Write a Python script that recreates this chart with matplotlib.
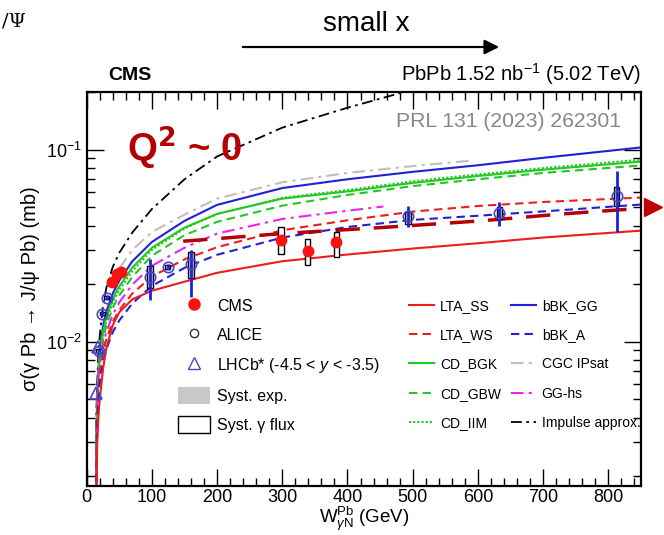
import numpy as np
import matplotlib.pyplot as plt
from matplotlib.lines import Line2D
from matplotlib.patches import Rectangle, Patch, FancyArrowPatch
from matplotlib.ticker import MultipleLocator, LogLocator, NullFormatter

plt.rcParams['font.family'] = ['Liberation Sans', 'DejaVu Sans']
plt.rcParams['mathtext.fontset'] = 'custom'
plt.rcParams['mathtext.rm'] = 'Liberation Sans'
plt.rcParams['mathtext.it'] = 'Liberation Sans:italic'

# theory curves
W_th = [14, 15, 16, 18, 20, 25, 30, 40, 50, 70, 100, 150, 200, 300, 400, 500, 600, 700, 850]
bBK_GG = [0.0012, 0.0033, 0.0050, 0.0071, 0.0088, 0.0120, 0.0143, 0.0178, 0.0208, 0.0262, 0.0330, 0.0425, 0.0515, 0.0630, 0.0700, 0.0765, 0.0828, 0.0905, 0.1025]
CD_BGK = [0.0010, 0.0030, 0.0048, 0.0069, 0.0085, 0.0113, 0.0134, 0.0167, 0.0194, 0.0243, 0.0308, 0.0392, 0.0462, 0.0555, 0.0605, 0.0670, 0.0728, 0.0785, 0.0865]
CD_IIM = [0.0009, 0.0028, 0.0045, 0.0065, 0.0080, 0.0107, 0.0127, 0.0160, 0.0186, 0.0233, 0.0300, 0.0388, 0.0462, 0.0560, 0.0615, 0.0683, 0.0742, 0.0800, 0.0885]
CD_GBW = [0.0008, 0.0026, 0.0043, 0.0062, 0.0077, 0.0102, 0.0121, 0.0150, 0.0174, 0.0217, 0.0280, 0.0358, 0.0420, 0.0510, 0.0580, 0.0645, 0.0700, 0.0755, 0.0826]
LTA_WS = [0.0008, 0.0025, 0.0040, 0.0057, 0.0068, 0.0088, 0.0103, 0.0127, 0.0146, 0.0178, 0.0218, 0.0268, 0.0310, 0.0380, 0.0428, 0.0475, 0.0508, 0.0533, 0.0562]
bBK_A = [0.0006, 0.0020, 0.0034, 0.0049, 0.0060, 0.0078, 0.0091, 0.0112, 0.0129, 0.0158, 0.0195, 0.0242, 0.0283, 0.0348, 0.0395, 0.0430, 0.0452, 0.0476, 0.0517]
LTA_SS = [0.0005, 0.0017, 0.0029, 0.0041, 0.0050, 0.0072, 0.0092, 0.0122, 0.0142, 0.0166, 0.0184, 0.0205, 0.0228, 0.0262, 0.0284, 0.0305, 0.0325, 0.0348, 0.0378]

W_gg = [14, 15, 16, 18, 20, 25, 30, 40, 50, 70, 100, 150, 200, 300, 400, 455]
GG_hs = [0.0009, 0.0028, 0.0045, 0.0064, 0.0076, 0.0096, 0.0112, 0.0138, 0.0160, 0.0198, 0.0248, 0.0308, 0.0365, 0.0435, 0.0480, 0.0505]

W_cgc = [50, 70, 100, 150, 200, 300, 400, 500, 593]
CGC_IPsat = [0.0240, 0.0300, 0.0372, 0.0458, 0.0555, 0.0675, 0.0755, 0.0820, 0.0877]

W_imp = [14, 15, 16, 18, 20, 25, 30, 40, 50, 70, 100, 150, 200, 300, 400, 500]
Impulse = [0.0020, 0.0045, 0.0060, 0.0088, 0.0107, 0.0153, 0.0190, 0.0245, 0.0290, 0.0370, 0.0490, 0.0700, 0.0920, 0.1300, 0.1650, 0.2050]

W_fit = [148, 300, 450, 600, 730, 850]
CMS_fit = [0.0333, 0.0365, 0.0392, 0.0424, 0.0462, 0.0494]

# data points
cms_W = [39, 46, 53, 298, 339, 383]
cms_sig = [0.0204, 0.0225, 0.0229, 0.0339, 0.0295, 0.0329]
cms_flux_lo = [0.0200, 0.0221, 0.0225, 0.0287, 0.0249, 0.0275]
cms_flux_hi = [0.0208, 0.0229, 0.0233, 0.0394, 0.0344, 0.0371]

alice_W = [19, 24, 30.7, 97, 124, 160, 493, 633, 813]
alice_sig = [0.0089, 0.0140, 0.0169, 0.0218, 0.0244, 0.0254, 0.0453, 0.0466, 0.0575]
alice_stat_lo = [0.0086, 0.0136, 0.0164, 0.0164, 0.0236, 0.0170, 0.0394, 0.0402, 0.0370]
alice_stat_hi = [0.0092, 0.0144, 0.0174, 0.0270, 0.0252, 0.0298, 0.0511, 0.0530, 0.0776]
alice_sys_lo = [0.0087, 0.0137, 0.0166, 0.0195, 0.0239, 0.0218, 0.0412, 0.0437, 0.0515]
alice_sys_hi = [0.0091, 0.0143, 0.0172, 0.0243, 0.0249, 0.0288, 0.0469, 0.0498, 0.0630]
alice_flux_lo = [0.0087, 0.0137, 0.0166, 0.0191, 0.0239, 0.0214, 0.0410, 0.0435, 0.0510]
alice_flux_hi = [0.0091, 0.0143, 0.0172, 0.0246, 0.0249, 0.0292, 0.0471, 0.0500, 0.0636]

lhcb_W = [14.3, 17.8]
lhcb_sig = [0.0054, 0.0094]

fig = plt.figure(figsize=(6.64, 5.35), dpi=100)
ax = fig.add_axes([0.1306, 0.0916, 0.8345, 0.737])

red = '#ee1c1c'
green = '#22c822'
blue = '#2020d8'
dash = (0, (4, 2.5))
dd = (0, (6, 2.5, 1.5, 2.5))

ax.plot(W_imp, Impulse, color='black', lw=1.3, ls=dd)
ax.plot(W_cgc, CGC_IPsat, color='#c4bcbc', lw=1.5, ls=dd)
ax.plot(W_th, bBK_GG, color=blue, lw=1.5)
ax.plot(W_th, CD_IIM, color=green, lw=1.5, ls=(0, (1, 1)))
ax.plot(W_th, CD_BGK, color=green, lw=1.5)
ax.plot(W_th, CD_GBW, color=green, lw=1.5, ls=dash)
ax.plot(W_gg, GG_hs, color='#ee22ee', lw=1.5, ls=dd)
ax.plot(W_th, LTA_WS, color=red, lw=1.5, ls=dash)
ax.plot(W_th, bBK_A, color=blue, lw=1.5, ls=dash)
ax.plot(W_th, LTA_SS, color=red, lw=1.5)
ax.plot(W_fit, CMS_fit, color='#b40000', lw=2.5, ls=(0, (7, 4)))

bw = 8
for w, lo, hi in zip(alice_W, alice_sys_lo, alice_sys_hi):
    ax.add_patch(Rectangle((w - bw / 2, lo), bw, hi - lo, fc='#c8c8c8', ec='none', zorder=3))
for w, lo, hi in zip(alice_W, alice_flux_lo, alice_flux_hi):
    ax.add_patch(Rectangle((w - bw / 2, lo), bw, hi - lo, fill=False, ec='black', lw=1.0, zorder=3))
for w, lo, hi in zip(cms_W, cms_flux_lo, cms_flux_hi):
    ax.add_patch(Rectangle((w - bw / 2, lo), bw, hi - lo, fc='white', ec='black', lw=1.0, zorder=3))

a_sig = np.array(alice_sig)
yerr = [a_sig - np.array(alice_stat_lo), np.array(alice_stat_hi) - a_sig]
ax.errorbar(alice_W, alice_sig, yerr=yerr, fmt='none', ecolor=blue, elinewidth=2, zorder=4)
ax.plot(alice_W, alice_sig, 'o', ms=7.5, mfc='none', mec='#4848c8', mew=1.2, zorder=5)
ax.plot(lhcb_W, lhcb_sig, '^', ms=8, mfc='none', mec='#4848c8', mew=1.2, zorder=5)
ax.plot(cms_W, cms_sig, 'o', ms=8.5, color='#ff1010', mec='none', zorder=6)

ax.set_xlim(0, 850)
ax.set_ylim(0.00177, 0.2)
ax.set_yscale('log')
ax.xaxis.set_major_locator(MultipleLocator(100))
ax.xaxis.set_minor_locator(MultipleLocator(20))
ax.yaxis.set_minor_locator(LogLocator(base=10, subs=np.arange(2, 10)))
ax.yaxis.set_minor_formatter(NullFormatter())
ax.tick_params(which='both', direction='in', top=True, right=True, labelsize=13, width=1)
ax.tick_params(which='major', length=12)
ax.tick_params(which='minor', length=6)
ax.tick_params(axis='x', pad=2)
for s in ax.spines.values():
    s.set_linewidth(1.6)

ax.set_xlabel(r'W$_{\gamma\mathrm{N}}^{\mathrm{Pb}}$ (GeV)', fontsize=13.5, labelpad=-1)
ax.set_ylabel(r'σ(γ Pb → J/ψ Pb) (mb)', fontsize=14.5, labelpad=4)

# legends
h1 = [Line2D([], [], marker='o', ls='none', color='#ff1010', mec='none', ms=9),
      Line2D([], [], marker='o', ls='none', mfc='none', mec='#333333', ms=6),
      Line2D([], [], marker='^', ls='none', mfc='none', mec='#4848c8', ms=9),
      Patch(fc='#c8c8c8', ec='none'),
      Patch(fc='white', ec='black')]
l1 = ax.legend(h1, ['CMS', 'ALICE', 'LHCb* (-4.5 < $y$ < -3.5)', 'Syst. exp.', 'Syst. γ flux'],
               loc='upper left', bbox_to_anchor=(0.165, 0.48), frameon=False, fontsize=11.5,
               handlelength=2.0, handleheight=1.3, labelspacing=0.75, handletextpad=0.45,
               borderaxespad=0, borderpad=0)
ax.add_artist(l1)

h2 = [Line2D([], [], color=red, lw=1.5),
      Line2D([], [], color=red, lw=1.5, ls=dash),
      Line2D([], [], color=green, lw=1.5),
      Line2D([], [], color=green, lw=1.5, ls=dash),
      Line2D([], [], color=green, lw=1.5, ls=(0, (1, 1))),
      Line2D([], [], color=blue, lw=1.5),
      Line2D([], [], color=blue, lw=1.5, ls=dash),
      Line2D([], [], color='#c4bcbc', lw=1.5, ls=dd),
      Line2D([], [], color='#ee22ee', lw=1.5, ls=dd),
      Line2D([], [], color='black', lw=1.3, ls=dd)]
labels2 = ['LTA_SS', 'LTA_WS', 'CD_BGK', 'CD_GBW', 'CD_IIM',
           'bBK_GG', 'bBK_A', 'CGC IPsat', 'GG-hs', 'Impulse approx.']
ax.legend(h2, labels2, ncol=2, loc='upper left', bbox_to_anchor=(0.582, 0.475), frameon=False,
          fontsize=10, handlelength=1.8, labelspacing=1.1, handletextpad=0.4,
          columnspacing=0.75, borderaxespad=0, borderpad=0)

# texts
fig.text(108 / 664, 1 - 75 / 535, 'CMS', fontsize=14, fontweight='bold', va='center')
fig.text(641 / 664, 1 - 74 / 535, r'PbPb 1.52 nb$^{-1}$ (5.02 TeV)', fontsize=14.5, ha='right', va='center')
ax.text(0.965, 0.925, 'PRL 131 (2023) 262301', transform=ax.transAxes, fontsize=15.2,
        color='#888888', ha='right', va='center')
ax.text(0.072, 0.855, r'Q$^\mathbf{2}$ ~ 0', transform=ax.transAxes, fontsize=27.5,
        color='#b40000', fontweight='bold', va='center')
fig.text(366 / 664, 1 - 24 / 535, 'small x', fontsize=20, ha='center', va='center')
fig.add_artist(FancyArrowPatch((240 / 664, 1 - 47 / 535), (502 / 664, 1 - 47 / 535),
               transform=fig.transFigure, arrowstyle='-|>', mutation_scale=22, lw=1.6, color='black'))
fig.text(2 / 664, 1 - 22 / 535, '/Ψ', fontsize=14, family='DejaVu Serif', va='center')
ax.plot([1.022], [0.7076], marker='>', ms=13, color='#c00000', transform=ax.transAxes, clip_on=False)

fig.savefig('out.png', dpi=100)
